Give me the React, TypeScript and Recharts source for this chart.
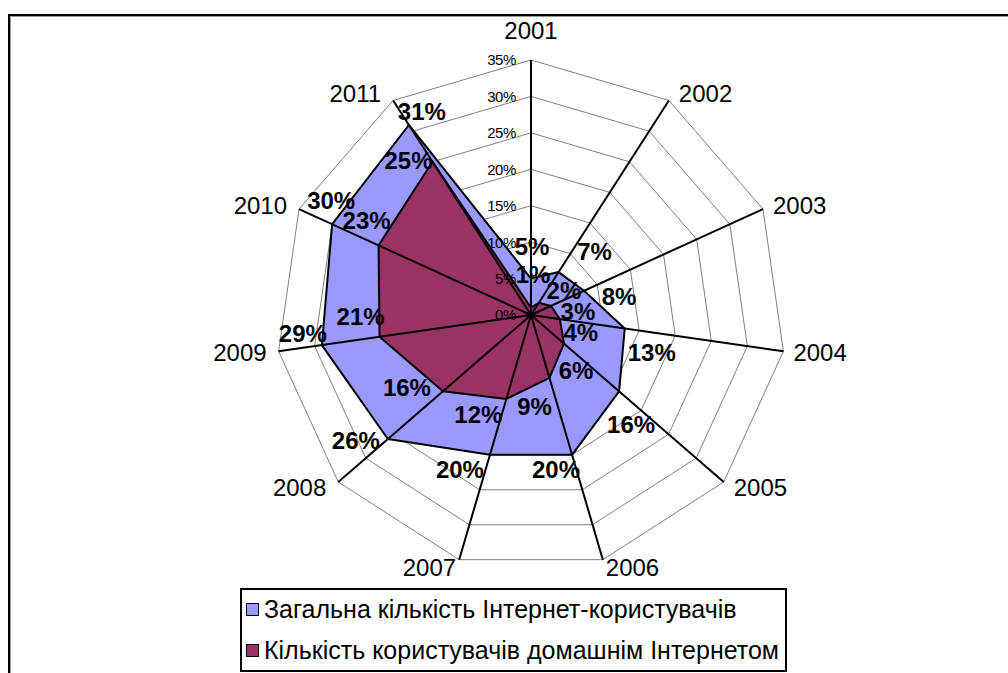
import { RadarChart, Radar, PolarGrid, PolarAngleAxis, PolarRadiusAxis, Legend } from "recharts";

const years = ["2001", "2002", "2003", "2004", "2005", "2006", "2007", "2008", "2009", "2010", "2011"];
const totalUsers = [5, 7, 8, 13, 16, 20, 20, 26, 29, 30, 31];
const homeUsers = [1, 2, 3, 4, 6, 9, 12, 16, 21, 23, 25];
const radiusTicks = [0, 5, 10, 15, 20, 25, 30, 35];

const seriesNames = {
  total: "Загальна кількість Інтернет-користувачів",
  home: "Кількість користувачів домашнім Інтернетом",
};

// label nudges from the vertex (px), Excel puts them a bit sideways
const totalNudge = [[1, -32], [36, -21], [35, 6], [27, 24], [12, 33], [-16, 15], [-30, 15], [-32, 1], [-19, -12], [-1, -24], [13, -14]];
const homeNudge = [[2, -33], [25, -12], [27, 5], [21, 13], [12, 27], [-15, 28], [-28, 16], [-36, -4], [-19, -20], [-12, -25], [-24, -1]];

const data = years.map((year, i) => ({ year, total: totalUsers[i], home: homeUsers[i] }));

const W = 1008, H = 673;
const CX = 531, CY = 315, R = 255;
const FONT = '"Liberation Sans", Arial, sans-serif';
const BLUE = "#9999FF";
const MAROON = "#993366";
const COLORS: Record<string, string> = { total: BLUE, home: MAROON };

function labels(points: any[], nudge: number[][]) {
  return points.map((p, i) => (
    <text key={i} x={p.x + nudge[i][0]} y={p.y + nudge[i][1] + 8.6} textAnchor="middle"
      fontFamily={FONT} fontSize={24} fontWeight="bold" fill="#000">{`${p.value}%`}</text>
  ));
}

const poly = (points: any[]) => points.map(p => `${p.x},${p.y}`).join(" ");

function TotalShape(props: any) {
  const pts = props.points || [];
  return (
    <g>
      <polygon points={poly(pts)} fill={BLUE} stroke="#000" strokeWidth={2} strokeLinejoin="round" />
      {labels(pts, totalNudge)}
    </g>
  );
}

function HomeShape(props: any) {
  const pts = props.points || [];
  return (
    <g>
      <polygon points={poly(pts)} fill={MAROON} stroke="#000" strokeWidth={2} strokeLinejoin="round" />
      {pts.map((p: any, i: number) => {
        const dx = p.x - CX, dy = p.y - CY;
        const len = Math.hypot(dx, dy) || 1;
        return <line key={i} x1={CX} y1={CY} x2={CX + (dx / len) * R} y2={CY + (dy / len) * R} stroke="#000" strokeWidth={2} />;
      })}
      {labels(pts, homeNudge)}
    </g>
  );
}

function AngleTick(props: any) {
  const { x, y, payload } = props;
  const dx = x - CX, dy = y - CY;
  const len = Math.hypot(dx, dy) || 1;
  const ux = dx / len, uy = dy / len;
  const ex = CX + ux * R, ey = CY + uy * R;
  let tx = ex, ty = ey, anchor: "start" | "middle" | "end" = "middle";
  if (Math.abs(ux) < 0.05) {
    ty = ey - 30;
  } else {
    const off = Math.abs(ux) < 0.3 ? 3 : ux > 0 ? 10 : 12;
    tx = ex + Math.sign(ux) * off;
    ty = ey + uy * 8;
    anchor = ux > 0 ? "start" : "end";
  }
  return (
    <text x={tx} y={ty + 8.6} textAnchor={anchor} fontFamily={FONT} fontSize={24} fill="#000">
      {payload.value}
    </text>
  );
}

function RadiusTick(props: any) {
  const { x, y, payload } = props;
  return (
    <text x={x - 15} y={y + 5.4} textAnchor="end" fontFamily={FONT} fontSize={15} letterSpacing={-0.4} fill="#000">
      {`${payload.value}%`}
    </text>
  );
}

function LegendBox() {
  const rows = ["total", "home"];
  return (
    <div style={{ width: 543, height: 80, border: "2px solid #000", background: "#fff", fontFamily: FONT, fontSize: 25, color: "#000", position: "relative" }}>
      {rows.map((k, i) => (
        <div key={k} style={{ position: "absolute", left: 4, top: i === 0 ? 5 : 46, height: 28, display: "flex", alignItems: "center", whiteSpace: "nowrap" }}>
          <span style={{ display: "inline-block", width: 11, height: 11, background: COLORS[k], border: "1.5px solid #000", marginRight: 5 }} />
          <span>{seriesNames[k as keyof typeof seriesNames]}</span>
        </div>
      ))}
    </div>
  );
}

export default function App() {
  return (
    <div style={{ position: "fixed", left: 0, top: 0, width: W, height: H, overflow: "hidden", background: "#fff" }}>
      <div style={{ position: "absolute", left: 8, top: 14, width: 1100, height: 800, border: "2px solid #000", boxShadow: "inset 1px 1px 0 #999" }} />
      <div style={{ position: "absolute", left: 0, top: 0 }}>
        <RadarChart width={W} height={H} data={data} cx={CX} cy={CY} outerRadius={R} startAngle={90} endAngle={-270}
          margin={{ top: 0, right: 0, bottom: 0, left: 0 }}>
          <PolarGrid gridType="polygon" radialLines={false} stroke="#808080" strokeWidth={1} />
          <PolarAngleAxis dataKey="year" tick={<AngleTick />} tickLine={false} axisLine={false} />
          <PolarRadiusAxis angle={90} type="number" domain={[0, 35]} ticks={radiusTicks as any} tickCount={8}
            axisLine={false} tick={<RadiusTick />} />
          <Radar dataKey="total" name={seriesNames.total} fill={BLUE} stroke="#000" fillOpacity={1}
            shape={(p: any) => <TotalShape {...p} />} isAnimationActive={false} dot={false} />
          <Radar dataKey="home" name={seriesNames.home} fill={MAROON} stroke="#000" fillOpacity={1}
            shape={(p: any) => <HomeShape {...p} />} isAnimationActive={false} dot={false} />
          <Legend verticalAlign="bottom" align="left" content={() => <LegendBox />}
            wrapperStyle={{ position: "absolute", left: 240, top: 588, bottom: "auto", width: "auto" }} />
        </RadarChart>
      </div>
    </div>
  );
}
